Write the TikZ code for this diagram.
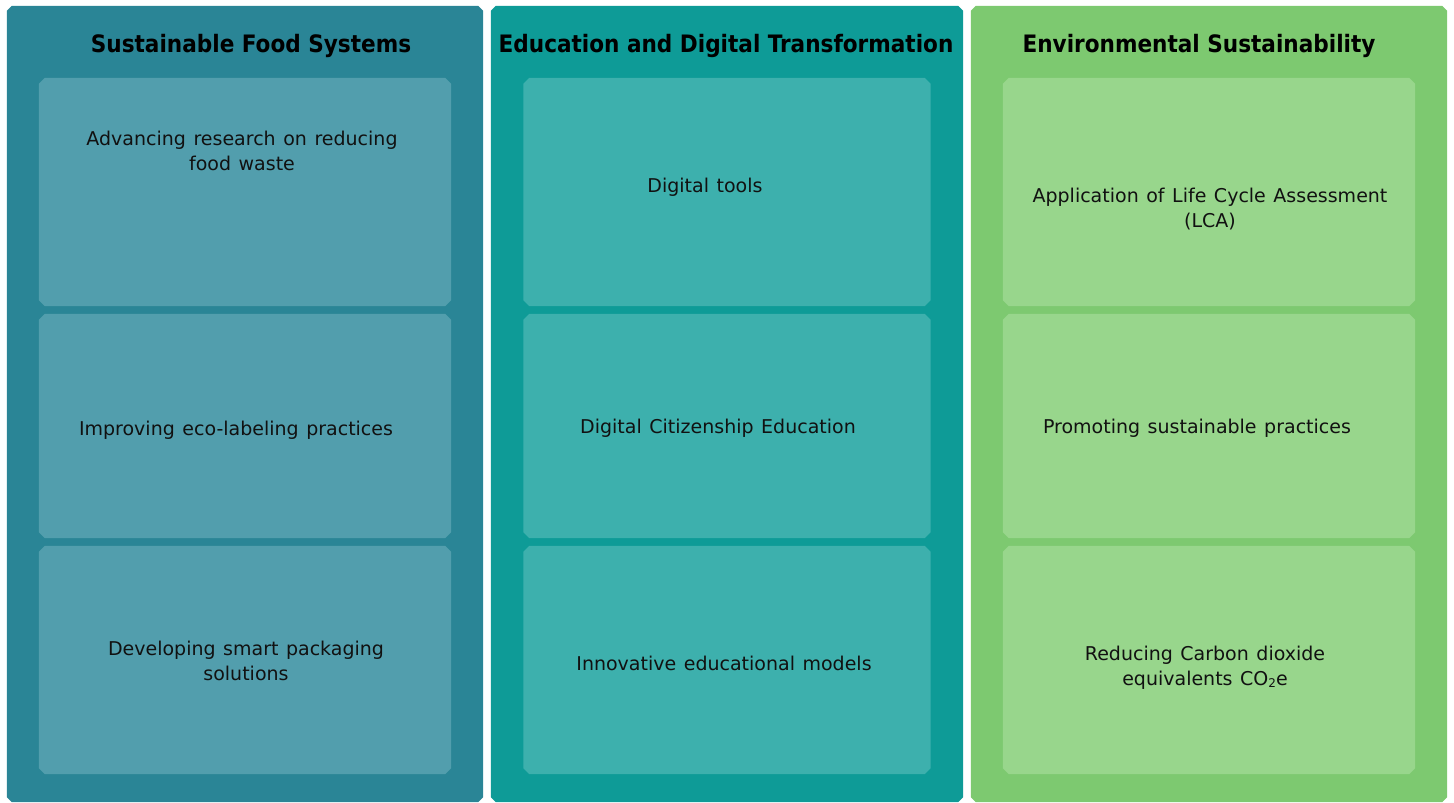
\documentclass[tikz,border=0pt]{standalone}
\usepackage{fontspec}
\setmainfont{DejaVu Sans}[WordSpace=1.25]
\newfontfamily\titlefont{DejaVu Sans Condensed}
\definecolor{outA}{HTML}{2A8596}
\definecolor{inA}{HTML}{529EAD}
\definecolor{outB}{HTML}{0E9B97}
\definecolor{inB}{HTML}{3DB0AD}
\definecolor{outC}{HTML}{7DC970}
\definecolor{inC}{HTML}{98D68C}
\definecolor{txt}{HTML}{111111}
\newcommand{\chamfbox}[3]{% node name, chamfer, colour
  \fill[#3] ([xshift=#2]#1.north west) -- ([xshift=-#2]#1.north east) -- ([yshift=-#2]#1.north east)
    -- ([yshift=#2]#1.south east) -- ([xshift=-#2]#1.south east) -- ([xshift=#2]#1.south west)
    -- ([yshift=#2]#1.south west) -- ([yshift=-#2]#1.north west) -- cycle;}
\begin{document}
\begin{tikzpicture}[x=1pt,y=-1pt,
  colbox/.style={rectangle, inner sep=0pt, draw=none, minimum height=796pt},
  cellbox/.style={rectangle, inner sep=0pt, draw=none},
  titletext/.style={text=black, font=\titlefont\bfseries\fontsize{24}{26}\selectfont, inner sep=0pt},
  celltext/.style={text=txt, font=\fontsize{19}{25.5}\selectfont, align=center, inner sep=0pt}
]
\useasboundingbox (0,0) rectangle (1454,803);
% columns
\node[colbox, minimum width=476pt] (colA) at (245,404) {};
\node[colbox, minimum width=472pt] (colB) at (727,404) {};
\node[colbox, minimum width=476pt] (colC) at (1209,404) {};
\chamfbox{colA}{5pt}{outA}
\chamfbox{colB}{5pt}{outB}
\chamfbox{colC}{5pt}{outC}
% titles
\node[titletext] (tA) at (251,46) {Sustainable Food Systems};
\node[titletext] (tB) at (726,46) {Education and Digital Transformation};
\node[titletext] (tC) at (1199,46) {Environmental Sustainability};
% cells
\node[cellbox, minimum width=412pt, minimum height=228pt] (a1) at (245,192) {};
\node[cellbox, minimum width=412pt, minimum height=224pt] (a2) at (245,426) {};
\node[cellbox, minimum width=412pt, minimum height=228pt] (a3) at (245,660) {};
\node[cellbox, minimum width=407pt, minimum height=228pt] (b1) at (727,192) {};
\node[cellbox, minimum width=407pt, minimum height=224pt] (b2) at (727,426) {};
\node[cellbox, minimum width=407pt, minimum height=228pt] (b3) at (727,660) {};
\node[cellbox, minimum width=412pt, minimum height=228pt] (c1) at (1209,192) {};
\node[cellbox, minimum width=412pt, minimum height=224pt] (c2) at (1209,426) {};
\node[cellbox, minimum width=412pt, minimum height=228pt] (c3) at (1209,660) {};
\chamfbox{a1}{6pt}{inA}\chamfbox{a2}{6pt}{inA}\chamfbox{a3}{6pt}{inA}
\chamfbox{b1}{6pt}{inB}\chamfbox{b2}{6pt}{inB}\chamfbox{b3}{6pt}{inB}
\chamfbox{c1}{6pt}{inC}\chamfbox{c2}{6pt}{inC}\chamfbox{c3}{6pt}{inC}
% texts
\node[celltext] (ta1) at (242,151) {Advancing research on reducing\\food waste};
\node[celltext] (ta2) at (236,430) {Improving eco-labeling practices};
\node[celltext] (ta3) at (246,661) {Developing smart packaging\\solutions};
\node[celltext] (tb1) at (705,187) {Digital tools};
\node[celltext] (tb2) at (718,428) {Digital Citizenship Education};
\node[celltext] (tb3) at (724,663) {Innovative educational models};
\node[celltext] (tc1) at (1210,209) {Application of Life Cycle Assessment\\(LCA)};
\node[celltext] (tc2) at (1197,428) {Promoting sustainable practices};
\node[celltext] (tc3) at (1205,668) {Reducing Carbon dioxide\\equivalents CO\raisebox{-0.1ex}{\fontsize{12}{12}\selectfont 2}e};
\end{tikzpicture}
\end{document}
